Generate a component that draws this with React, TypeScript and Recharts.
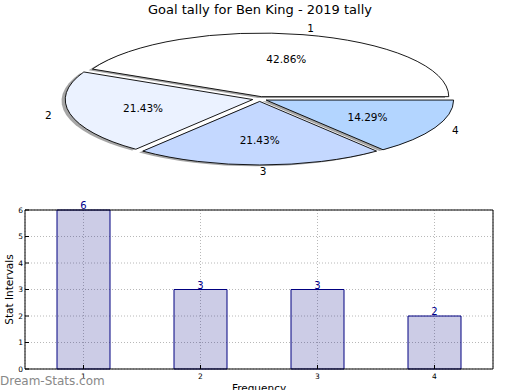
import React from "react";
import {
  PieChart,
  Pie,
  Cell,
  BarChart,
  Bar,
  XAxis,
  YAxis,
  CartesianGrid,
  LabelList,
} from "recharts";

// data
const categories = ["1", "2", "3", "4"];
const tally = [6, 3, 3, 2];
const sliceColors = ["#ffffff", "#ebf2ff", "#c4d8ff", "#b3d5ff"];
const yTicks = [0, 1, 2, 3, 4, 5, 6];

const pieData = categories.map((name, i) => ({ name, value: tally[i] }));
const barData = categories.map((name, i) => ({ name, value: tally[i] }));

const FONT = "'DejaVu Sans', sans-serif";
const RAD = Math.PI / 180;
const Y_SCALE = 0.339; // pie is squashed into an ellipse
const EXPLODE = 0.038;

function wedgePath(ox: number, oy: number, rx: number, ry: number, a0: number, a1: number) {
  const x0 = ox + rx * Math.cos(a0 * RAD);
  const y0 = oy - ry * Math.sin(a0 * RAD);
  const x1 = ox + rx * Math.cos(a1 * RAD);
  const y1 = oy - ry * Math.sin(a1 * RAD);
  const large = Math.abs(a1 - a0) > 180 ? 1 : 0;
  const sweep = a1 > a0 ? 0 : 1;
  return `M${ox},${oy}L${x0},${y0}A${rx},${ry} 0 ${large} ${sweep} ${x1},${y1}Z`;
}

function wedgeOrigin(p: any) {
  const midDeg = p.midAngle ?? (p.startAngle + p.endAngle) / 2;
  const mid = midDeg * RAD;
  const rx = p.outerRadius;
  const ry = rx * Y_SCALE;
  return {
    ox: p.cx + EXPLODE * rx * Math.cos(mid),
    oy: p.cy - EXPLODE * ry * Math.sin(mid),
    rx,
    ry,
    mid,
  };
}

const Wedge = (p: any) => {
  const { ox, oy, rx, ry } = wedgeOrigin(p);
  return (
    <path
      d={wedgePath(ox, oy, rx, ry, p.startAngle, p.endAngle)}
      fill={p.fill}
      stroke="#000"
      strokeWidth={0.9}
    />
  );
};

const WedgeShadow = (p: any) => {
  const { ox, oy, rx, ry } = wedgeOrigin(p);
  return (
    <path
      d={wedgePath(ox - 0.02 * rx, oy + 0.02 * ry, rx, ry, p.startAngle, p.endAngle)}
      fill="#4d4d4d"
      fillOpacity={0.5}
      stroke="none"
    />
  );
};

const renderPieLabel = (p: any) => {
  const { ox, oy, rx, ry, mid } = wedgeOrigin(p);
  const c = Math.cos(mid);
  const s = Math.sin(mid);
  return (
    <g>
      <text
        x={ox + 1.1 * rx * c}
        y={oy - 1.1 * ry * s}
        textAnchor={c >= -1e-6 ? "start" : "end"}
        dominantBaseline="central"
        fontSize={10.5}
        fill="#000"
      >
        {p.name}
      </text>
      <text
        x={ox + 0.6 * rx * c}
        y={oy - 0.6 * ry * s}
        textAnchor="middle"
        dominantBaseline="central"
        fontSize={10.5}
        fill="#000"
      >
        {(p.percent * 100).toFixed(2)}%
      </text>
    </g>
  );
};

const YLabel = ({ viewBox }: any) => {
  const x = viewBox.x + 9;
  const y = viewBox.y + viewBox.height / 2;
  return (
    <text
      x={x}
      y={y}
      transform={`rotate(-90, ${x}, ${y})`}
      textAnchor="middle"
      dominantBaseline="central"
      fontSize={10.5}
      fill="#000"
    >
      Stat Intervals
    </text>
  );
};

const axisTick = { fontSize: 7.5, fill: "#000" };

export default function App() {
  return (
    <div
      style={{
        position: "absolute",
        left: 0,
        top: 0,
        width: 520,
        height: 390,
        background: "#fff",
        fontFamily: FONT,
        overflow: "hidden",
      }}
    >
      <div
        style={{
          position: "absolute",
          top: 2,
          left: 0,
          width: 520,
          textAlign: "center",
          fontSize: 13,
          color: "#000",
        }}
      >
        Goal tally for Ben King - 2019 tally
      </div>

      <div style={{ position: "absolute", top: 0, left: 0 }}>
        <PieChart width={520} height={195} margin={{ top: 0, right: 0, bottom: 0, left: 0 }}>
          <Pie
            data={pieData}
            dataKey="value"
            nameKey="name"
            cx={259.7}
            cy={99}
            outerRadius={187.5}
            startAngle={0}
            endAngle={360}
            stroke="none"
            label={false}
            labelLine={false}
            shape={WedgeShadow}
            activeShape={WedgeShadow}
            inactiveShape={WedgeShadow}
            isAnimationActive={false}
          />
          <Pie
            data={pieData}
            dataKey="value"
            nameKey="name"
            cx={259.7}
            cy={99}
            outerRadius={187.5}
            startAngle={0}
            endAngle={360}
            stroke="none"
            label={renderPieLabel}
            labelLine={false}
            shape={Wedge}
            activeShape={Wedge}
            inactiveShape={Wedge}
            isAnimationActive={false}
          >
            {pieData.map((d, i) => (
              <Cell key={d.name} fill={sliceColors[i]} />
            ))}
          </Pie>
        </PieChart>
      </div>

      <div style={{ position: "absolute", top: 195, left: 0 }}>
        <BarChart
          width={520}
          height={205}
          data={barData}
          margin={{ top: 14, right: 26, bottom: 0, left: 0 }}
        >
          <CartesianGrid stroke="#b8b8b8" strokeDasharray="1 2" />
          <XAxis
            dataKey="name"
            height={31}
            interval={0}
            axisLine={{ stroke: "#000" }}
            tickLine={{ stroke: "#000" }}
            tickSize={-4}
            tickMargin={9}
            tick={axisTick}
            label={{
              value: "Frequency",
              position: "insideBottom",
              offset: 8,
              fontSize: 10.5,
              fill: "#000",
            }}
          />
          <XAxis
            xAxisId="top"
            orientation="top"
            dataKey="name"
            height={1}
            interval={0}
            axisLine={{ stroke: "#000" }}
            tickLine={{ stroke: "#000" }}
            tickSize={-4}
            tick={false}
          />
          <YAxis
            width={25}
            domain={[0, 6]}
            ticks={yTicks}
            interval={0}
            axisLine={{ stroke: "#000" }}
            tickLine={{ stroke: "#000" }}
            tickSize={-4}
            tickMargin={6}
            tick={axisTick}
            label={<YLabel />}
          />
          <YAxis
            yAxisId="right"
            orientation="right"
            width={1}
            domain={[0, 6]}
            ticks={yTicks}
            interval={0}
            axisLine={{ stroke: "#000" }}
            tickLine={{ stroke: "#000" }}
            tickSize={-4}
            tick={false}
          />
          <Bar
            dataKey="value"
            barSize={53}
            fill="#000080"
            fillOpacity={0.2}
            stroke="#000080"
            strokeWidth={1}
            isAnimationActive={false}
          >
            <LabelList dataKey="value" position="top" offset={1} fill="#00008b" fontSize={10} />
          </Bar>
        </BarChart>
      </div>

      <div
        style={{
          position: "absolute",
          left: 0,
          top: 374,
          fontSize: 12,
          color: "#888",
          whiteSpace: "nowrap",
        }}
      >
        Dream-Stats.com
      </div>
    </div>
  );
}
